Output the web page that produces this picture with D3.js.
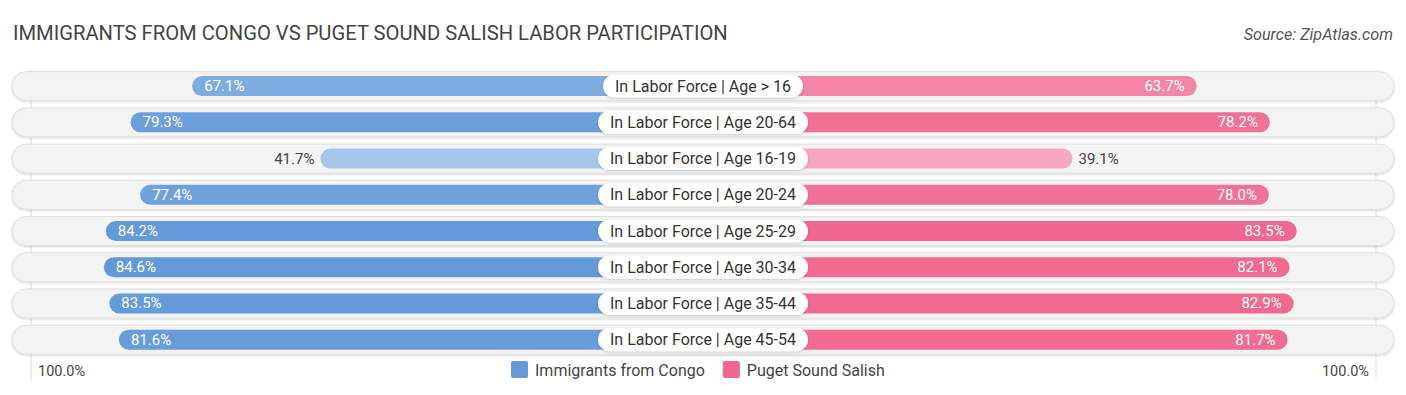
<!DOCTYPE html>
<html><head><meta charset="utf-8">
<script src="https://cdn.jsdelivr.net/npm/d3@7"></script>
<style>
body{margin:0;background:#fff;}
svg text{font-family:Roboto,"Open Sans",sans-serif;}
</style></head>
<body><svg id="chart" width="1406" height="395"></svg>
<script>
const categories = ["In Labor Force | Age > 16","In Labor Force | Age 20-64","In Labor Force | Age 16-19","In Labor Force | Age 20-24","In Labor Force | Age 25-29","In Labor Force | Age 30-34","In Labor Force | Age 35-44","In Labor Force | Age 45-54"];
const congo = [67.1,79.3,41.7,77.4,84.2,84.6,83.5,81.6];
const salish = [63.7,78.2,39.1,78.0,83.5,82.1,82.9,81.7];
const seriesNames = ["Immigrants from Congo","Puget Sound Salish"];
const axisLabels = ["100.0%","100.0%"];
const title = "IMMIGRANTS FROM CONGO VS PUGET SOUND SALISH LABOR PARTICIPATION";
const source = "Source: ZipAtlas.com";

const svg = d3.select("#chart");
const W = 1406, cx = 703, gap = 172;
const xL = d3.scaleLinear().domain([0,100]).range([cx-gap, cx-gap-505]);
const xR = d3.scaleLinear().domain([0,100]).range([cx+gap, cx+gap+505]);
const y = d3.scaleBand().domain(categories).range([68, 357.8]).paddingInner(0);
const rowC = d => y(d) + y.bandwidth()/2;

const blueC = d3.scaleLinear().domain([40,85]).range(["#aac8ec","#6399d8"]);
const pinkC = d3.scaleLinear().domain([39,85]).range(["#f7a8c1","#f0668f"]);

const defs = svg.append("defs");
const f = defs.append("filter").attr("id","sh").attr("x","-5%").attr("y","-30%").attr("width","110%").attr("height","160%");
f.append("feDropShadow").attr("dx",0).attr("dy",1).attr("stdDeviation",1).attr("flood-color","#000").attr("flood-opacity",0.18);

svg.append("text").attr("x",13).attr("y",40).attr("font-size",20.2).attr("fill","#444").text(title);
svg.append("text").attr("x",1393).attr("y",40).attr("text-anchor","end").attr("font-size",16.2).attr("font-style","italic").attr("fill","#555").text(source);

// gridlines
[xL(100)+5, xR(100)-4].forEach(x=>{
  svg.append("line").attr("x1",x).attr("x2",x).attr("y1",70).attr("y2",380).attr("stroke","#ddd").attr("stroke-width",1);
});

const rows = svg.append("g").selectAll("g").data(categories).join("g");
rows.append("rect").attr("x",12).attr("width",W-24).attr("y",d=>rowC(d)-14.5).attr("height",29)
  .attr("rx",14.5).attr("fill","#f3f3f3").attr("stroke","#e0e0e0").attr("stroke-width",1).attr("filter","url(#sh)");

const bh = 20;
rows.append("rect").attr("x",(d,i)=>xL(congo[i])).attr("width",(d,i)=>cx - xL(congo[i])).attr("y",d=>rowC(d)-bh/2).attr("height",bh)
  .attr("rx",bh/2).attr("fill",(d,i)=>blueC(congo[i]));
rows.append("rect").attr("x",cx).attr("width",(d,i)=>xR(salish[i]) - cx).attr("y",d=>rowC(d)-bh/2).attr("height",bh)
  .attr("rx",bh/2).attr("fill",(d,i)=>pinkC(salish[i]));

// value labels
rows.append("text").attr("y",d=>rowC(d)+5).attr("font-size",15)
  .each(function(d,i){
    const v=congo[i], inside = v>55, t=d3.select(this);
    if(inside){t.attr("x",xL(v)+12).attr("text-anchor","start").attr("fill","#fff");}
    else{t.attr("x",xL(v)-6).attr("text-anchor","end").attr("fill","#444");}
    t.text(v.toFixed(1)+"%");
  });
rows.append("text").attr("y",d=>rowC(d)+5).attr("font-size",15)
  .each(function(d,i){
    const v=salish[i], inside = v>55, t=d3.select(this);
    if(inside){t.attr("x",xR(v)-12).attr("text-anchor","end").attr("fill","#fff");}
    else{t.attr("x",xR(v)+6).attr("text-anchor","start").attr("fill","#444");}
    t.text(v.toFixed(1)+"%");
  });

// center labels
rows.each(function(d){
  const g=d3.select(this);
  const lab=g.append("g");
  const txt=lab.append("text").attr("x",cx).attr("y",rowC(d)+5.5).attr("text-anchor","middle").attr("font-size",16).attr("fill","#333").text(d);
  const w=txt.node().getComputedTextLength()+24;
  lab.insert("rect","text").attr("x",cx-w/2).attr("width",w).attr("y",rowC(d)-11.5).attr("height",23).attr("rx",11.5).attr("fill","#fff").attr("filter","url(#sh)");
});

// axis labels
svg.append("text").attr("x",38).attr("y",376).attr("font-size",14.5).attr("fill","#444").text(axisLabels[0]);
svg.append("text").attr("x",1369).attr("y",376).attr("text-anchor","end").attr("font-size",14.5).attr("fill","#444").text(axisLabels[1]);

// legend
const leg = svg.append("g");
const items=[{n:seriesNames[0],c:"#6399d8"},{n:seriesNames[1],c:"#f0668f"}];
let lx=511;
items.forEach((it,k)=>{
  leg.append("rect").attr("x",lx).attr("y",361).attr("width",17).attr("height",17).attr("rx",2).attr("fill",it.c);
  const t=leg.append("text").attr("x",lx+24).attr("y",375.5).attr("font-size",16).attr("fill","#444").text(it.n);
  lx = lx+24+t.node().getComputedTextLength()+18;
});
</script></body></html>
